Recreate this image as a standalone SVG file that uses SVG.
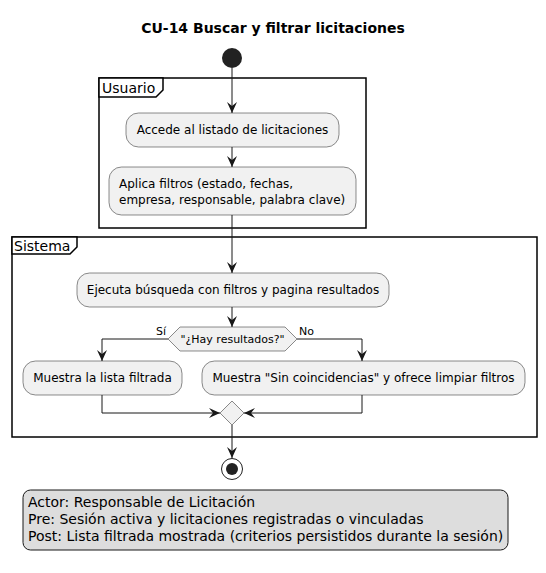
<svg xmlns="http://www.w3.org/2000/svg" width="546" height="573" viewBox="0 0 546 573">
<style>
text{font-family:"DejaVu Sans","Liberation Sans",sans-serif;fill:#000}
.title{font-size:14px;font-weight:bold}
.frame{fill:none;stroke:#000;stroke-width:1.5}
.ftab{fill:#fff;stroke:#000;stroke-width:1.5}
.flabel{font-size:14px}
.act{fill:#F1F1F1;stroke:#181818;stroke-width:0.5}
.atext{font-size:12px}
.ctext{font-size:11px}
.edge{fill:none;stroke:#181818;stroke-width:1}
.note{fill:#DDDDDD;stroke:#181818;stroke-width:1}
.ntext{font-size:14px}
</style>
<defs>
<marker id="arr" viewBox="0 0 12 10" refX="11" refY="5" markerWidth="12" markerHeight="10" markerUnits="userSpaceOnUse" orient="auto">
<path d="M0,0 L11,5 L0,10 L4,5 Z" fill="#181818"/>
</marker>
</defs>
<rect width="546" height="573" fill="#fff"/>
<text class="title" x="273" y="33" text-anchor="middle">CU-14 Buscar y filtrar licitaciones</text>

<g id="frame-usuario">
<rect class="frame" x="99" y="78" width="267" height="150"/>
<path class="ftab" d="M99,78 H163 V90 L156,97 H99 Z"/>
<text class="flabel" x="102" y="93">Usuario</text>
</g>
<g id="frame-sistema">
<rect class="frame" x="12" y="237" width="525" height="200"/>
<path class="ftab" d="M12,237 H77 V247 L70,254 H12 Z"/>
<text class="flabel" x="14" y="251">Sistema</text>
</g>

<g id="connectors">
<line class="edge" x1="232" y1="68" x2="232" y2="113" marker-end="url(#arr)"/>
<line class="edge" x1="232" y1="147" x2="232" y2="167" marker-end="url(#arr)"/>
<line class="edge" x1="232" y1="215" x2="232" y2="273" marker-end="url(#arr)"/>
<line class="edge" x1="232" y1="307" x2="232" y2="327" marker-end="url(#arr)"/>
<polyline class="edge" points="168,339 102,339 102,361" marker-end="url(#arr)"/>
<polyline class="edge" points="297,339 362,339 362,361" marker-end="url(#arr)"/>
<polyline class="edge" points="102,395 102,413 220,413" marker-end="url(#arr)"/>
<polyline class="edge" points="362,395 362,413 244,413" marker-end="url(#arr)"/>
<line class="edge" x1="232" y1="425" x2="232" y2="458" marker-end="url(#arr)"/>
<text class="ctext" x="166" y="335" text-anchor="end">Sí</text>
<text class="ctext" x="299" y="335">No</text>
</g>

<g id="start"><circle cx="232" cy="58" r="10" fill="#222"/></g>

<g id="accede">
<rect class="act" x="126" y="113" width="213" height="34" rx="12.5"/>
<text class="atext" x="232.5" y="134" text-anchor="middle">Accede al listado de licitaciones</text>
</g>
<g id="aplica">
<rect class="act" x="109" y="167" width="247" height="48" rx="12.5"/>
<text class="atext" x="119" y="188">Aplica filtros (estado, fechas,</text>
<text class="atext" x="119" y="204">empresa, responsable, palabra clave)</text>
</g>
<g id="ejecuta">
<rect class="act" x="77" y="273" width="312" height="34" rx="12.5"/>
<text class="atext" x="233" y="294" text-anchor="middle">Ejecuta búsqueda con filtros y pagina resultados</text>
</g>
<g id="decision">
<polygon class="act" points="168,339 180,327 285,327 297,339 285,351 180,351"/>
<text class="ctext" x="232.5" y="343" text-anchor="middle">"¿Hay resultados?"</text>
</g>
<g id="muestra-lista">
<rect class="act" x="23" y="361" width="159" height="34" rx="12.5"/>
<text class="atext" x="102.5" y="382" text-anchor="middle">Muestra la lista filtrada</text>
</g>
<g id="muestra-sin">
<rect class="act" x="202" y="361" width="323" height="34" rx="12.5"/>
<text class="atext" x="363.5" y="382" text-anchor="middle">Muestra "Sin coincidencias" y ofrece limpiar filtros</text>
</g>
<g id="merge">
<polygon class="act" points="232,401 244,413 232,425 220,413"/>
</g>
<g id="end">
<circle cx="232" cy="469" r="10.5" fill="none" stroke="#222" stroke-width="1"/>
<circle cx="232" cy="469" r="6" fill="#222"/>
</g>
<g id="note">
<rect class="note" x="23" y="490" width="485" height="60" rx="7.5"/>
<text class="ntext" x="28" y="507">Actor: Responsable de Licitación</text>
<text class="ntext" x="28" y="524">Pre: Sesión activa y licitaciones registradas o vinculadas</text>
<text class="ntext" x="28" y="541">Post: Lista filtrada mostrada (criterios persistidos durante la sesión)</text>
</g>
</svg>
